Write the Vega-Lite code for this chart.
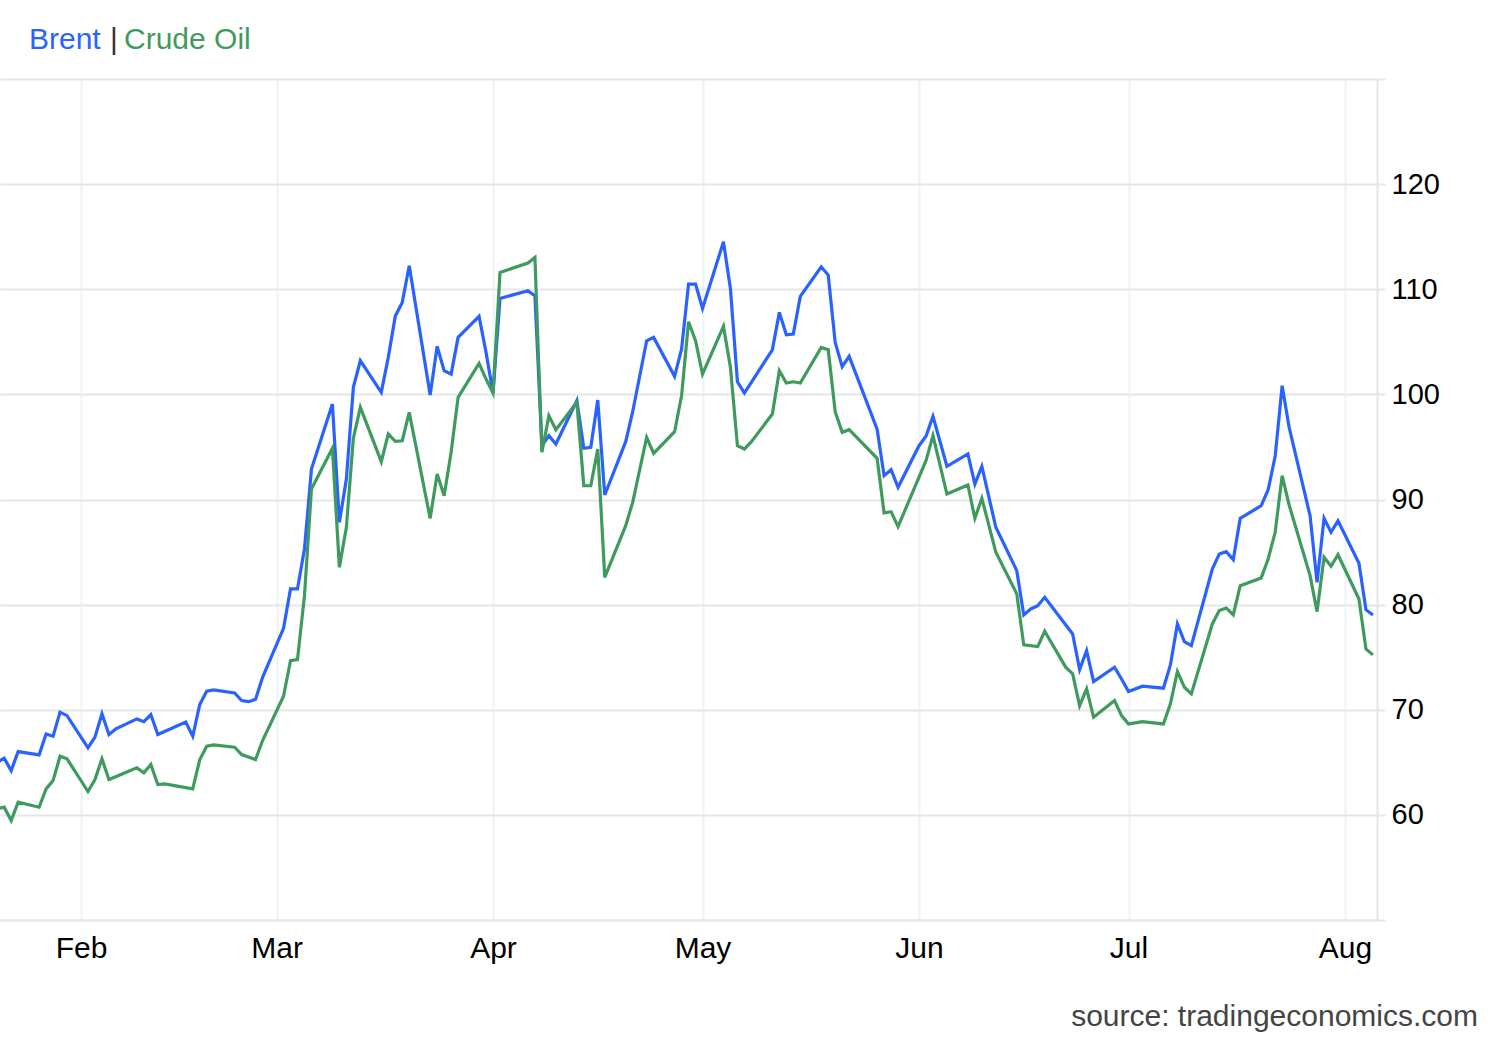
{
  "$schema": "https://vega.github.io/schema/vega-lite/v6.json",
  "description": "Brent vs Crude Oil daily prices, Jan to Aug.",
  "width": 1377,
  "height": 841,
  "autosize": {"type": "none"},
  "padding": {"left": 0, "top": 79, "right": 123, "bottom": 120},
  "background": "white",
  "title": {
    "text": "source: tradingeconomics.com",
    "orient": "bottom",
    "anchor": "end",
    "frame": "group",
    "dx": 101,
    "offset": 39,
    "fontSize": 30,
    "font": "Liberation Sans",
    "fontWeight": "normal",
    "color": "#444444"
  },
  "datasets": {
    "prices": [
      {"d": "2026-01-20", "s": "Brent", "v": 65.0},
      {"d": "2026-01-21", "s": "Brent", "v": 65.39},
      {"d": "2026-01-22", "s": "Brent", "v": 64.21},
      {"d": "2026-01-23", "s": "Brent", "v": 66.02},
      {"d": "2026-01-26", "s": "Brent", "v": 65.71},
      {"d": "2026-01-27", "s": "Brent", "v": 67.70},
      {"d": "2026-01-28", "s": "Brent", "v": 67.48},
      {"d": "2026-01-29", "s": "Brent", "v": 69.77},
      {"d": "2026-01-30", "s": "Brent", "v": 69.44},
      {"d": "2026-02-02", "s": "Brent", "v": 66.37},
      {"d": "2026-02-03", "s": "Brent", "v": 67.39},
      {"d": "2026-02-04", "s": "Brent", "v": 69.61},
      {"d": "2026-02-05", "s": "Brent", "v": 67.64},
      {"d": "2026-02-06", "s": "Brent", "v": 68.18},
      {"d": "2026-02-09", "s": "Brent", "v": 69.13},
      {"d": "2026-02-10", "s": "Brent", "v": 68.87},
      {"d": "2026-02-11", "s": "Brent", "v": 69.54},
      {"d": "2026-02-12", "s": "Brent", "v": 67.64},
      {"d": "2026-02-16", "s": "Brent", "v": 68.82},
      {"d": "2026-02-17", "s": "Brent", "v": 67.48},
      {"d": "2026-02-18", "s": "Brent", "v": 70.49},
      {"d": "2026-02-19", "s": "Brent", "v": 71.76},
      {"d": "2026-02-20", "s": "Brent", "v": 71.89},
      {"d": "2026-02-23", "s": "Brent", "v": 71.60},
      {"d": "2026-02-24", "s": "Brent", "v": 70.87},
      {"d": "2026-02-25", "s": "Brent", "v": 70.77},
      {"d": "2026-02-26", "s": "Brent", "v": 71.00},
      {"d": "2026-02-27", "s": "Brent", "v": 73.09},
      {"d": "2026-03-02", "s": "Brent", "v": 77.75},
      {"d": "2026-03-03", "s": "Brent", "v": 81.49},
      {"d": "2026-03-04", "s": "Brent", "v": 81.49},
      {"d": "2026-03-05", "s": "Brent", "v": 85.29},
      {"d": "2026-03-06", "s": "Brent", "v": 92.90},
      {"d": "2026-03-09", "s": "Brent", "v": 99.08},
      {"d": "2026-03-10", "s": "Brent", "v": 87.83},
      {"d": "2026-03-11", "s": "Brent", "v": 91.95},
      {"d": "2026-03-12", "s": "Brent", "v": 100.67},
      {"d": "2026-03-13", "s": "Brent", "v": 103.20},
      {"d": "2026-03-16", "s": "Brent", "v": 100.19},
      {"d": "2026-03-17", "s": "Brent", "v": 103.52},
      {"d": "2026-03-18", "s": "Brent", "v": 107.42},
      {"d": "2026-03-19", "s": "Brent", "v": 108.75},
      {"d": "2026-03-20", "s": "Brent", "v": 112.23},
      {"d": "2026-03-23", "s": "Brent", "v": 99.94},
      {"d": "2026-03-24", "s": "Brent", "v": 104.57},
      {"d": "2026-03-25", "s": "Brent", "v": 102.25},
      {"d": "2026-03-26", "s": "Brent", "v": 101.93},
      {"d": "2026-03-27", "s": "Brent", "v": 105.42},
      {"d": "2026-03-30", "s": "Brent", "v": 107.42},
      {"d": "2026-03-31", "s": "Brent", "v": 104.00},
      {"d": "2026-04-01", "s": "Brent", "v": 100.13},
      {"d": "2026-04-02", "s": "Brent", "v": 109.13},
      {"d": "2026-04-06", "s": "Brent", "v": 109.85},
      {"d": "2026-04-07", "s": "Brent", "v": 109.38},
      {"d": "2026-04-08", "s": "Brent", "v": 95.12},
      {"d": "2026-04-09", "s": "Brent", "v": 96.07},
      {"d": "2026-04-10", "s": "Brent", "v": 95.28},
      {"d": "2026-04-13", "s": "Brent", "v": 99.40},
      {"d": "2026-04-14", "s": "Brent", "v": 94.87},
      {"d": "2026-04-15", "s": "Brent", "v": 94.96},
      {"d": "2026-04-16", "s": "Brent", "v": 99.46},
      {"d": "2026-04-17", "s": "Brent", "v": 90.43},
      {"d": "2026-04-20", "s": "Brent", "v": 95.50},
      {"d": "2026-04-21", "s": "Brent", "v": 98.35},
      {"d": "2026-04-23", "s": "Brent", "v": 105.10},
      {"d": "2026-04-24", "s": "Brent", "v": 105.42},
      {"d": "2026-04-27", "s": "Brent", "v": 101.72},
      {"d": "2026-04-28", "s": "Brent", "v": 104.31},
      {"d": "2026-04-29", "s": "Brent", "v": 110.49},
      {"d": "2026-04-30", "s": "Brent", "v": 110.49},
      {"d": "2026-05-01", "s": "Brent", "v": 108.18},
      {"d": "2026-05-04", "s": "Brent", "v": 114.51},
      {"d": "2026-05-05", "s": "Brent", "v": 110.02},
      {"d": "2026-05-06", "s": "Brent", "v": 101.20},
      {"d": "2026-05-07", "s": "Brent", "v": 100.13},
      {"d": "2026-05-11", "s": "Brent", "v": 104.24},
      {"d": "2026-05-12", "s": "Brent", "v": 107.80},
      {"d": "2026-05-13", "s": "Brent", "v": 105.67},
      {"d": "2026-05-14", "s": "Brent", "v": 105.74},
      {"d": "2026-05-15", "s": "Brent", "v": 109.32},
      {"d": "2026-05-18", "s": "Brent", "v": 112.14},
      {"d": "2026-05-19", "s": "Brent", "v": 111.35},
      {"d": "2026-05-20", "s": "Brent", "v": 104.95},
      {"d": "2026-05-21", "s": "Brent", "v": 102.63},
      {"d": "2026-05-22", "s": "Brent", "v": 103.62},
      {"d": "2026-05-26", "s": "Brent", "v": 96.70},
      {"d": "2026-05-27", "s": "Brent", "v": 92.26},
      {"d": "2026-05-28", "s": "Brent", "v": 92.83},
      {"d": "2026-05-29", "s": "Brent", "v": 91.16},
      {"d": "2026-06-01", "s": "Brent", "v": 95.12},
      {"d": "2026-06-02", "s": "Brent", "v": 96.01},
      {"d": "2026-06-03", "s": "Brent", "v": 97.91},
      {"d": "2026-06-05", "s": "Brent", "v": 93.16},
      {"d": "2026-06-08", "s": "Brent", "v": 94.33},
      {"d": "2026-06-09", "s": "Brent", "v": 91.47},
      {"d": "2026-06-10", "s": "Brent", "v": 93.16},
      {"d": "2026-06-12", "s": "Brent", "v": 87.36},
      {"d": "2026-06-15", "s": "Brent", "v": 83.23},
      {"d": "2026-06-16", "s": "Brent", "v": 79.02},
      {"d": "2026-06-17", "s": "Brent", "v": 79.59},
      {"d": "2026-06-18", "s": "Brent", "v": 79.90},
      {"d": "2026-06-19", "s": "Brent", "v": 80.70},
      {"d": "2026-06-23", "s": "Brent", "v": 77.21},
      {"d": "2026-06-24", "s": "Brent", "v": 73.82},
      {"d": "2026-06-25", "s": "Brent", "v": 75.62},
      {"d": "2026-06-26", "s": "Brent", "v": 72.68},
      {"d": "2026-06-29", "s": "Brent", "v": 74.05},
      {"d": "2026-06-30", "s": "Brent", "v": 72.93},
      {"d": "2026-07-01", "s": "Brent", "v": 71.73},
      {"d": "2026-07-03", "s": "Brent", "v": 72.24},
      {"d": "2026-07-06", "s": "Brent", "v": 72.05},
      {"d": "2026-07-07", "s": "Brent", "v": 74.26},
      {"d": "2026-07-08", "s": "Brent", "v": 78.16},
      {"d": "2026-07-09", "s": "Brent", "v": 76.48},
      {"d": "2026-07-10", "s": "Brent", "v": 76.10},
      {"d": "2026-07-13", "s": "Brent", "v": 83.39},
      {"d": "2026-07-14", "s": "Brent", "v": 84.82},
      {"d": "2026-07-15", "s": "Brent", "v": 85.04},
      {"d": "2026-07-16", "s": "Brent", "v": 84.28},
      {"d": "2026-07-17", "s": "Brent", "v": 88.21},
      {"d": "2026-07-20", "s": "Brent", "v": 89.41},
      {"d": "2026-07-21", "s": "Brent", "v": 90.93},
      {"d": "2026-07-22", "s": "Brent", "v": 94.11},
      {"d": "2026-07-23", "s": "Brent", "v": 100.82},
      {"d": "2026-07-24", "s": "Brent", "v": 96.87},
      {"d": "2026-07-27", "s": "Brent", "v": 88.46},
      {"d": "2026-07-28", "s": "Brent", "v": 82.13},
      {"d": "2026-07-29", "s": "Brent", "v": 88.21},
      {"d": "2026-07-30", "s": "Brent", "v": 86.88},
      {"d": "2026-07-31", "s": "Brent", "v": 87.98},
      {"d": "2026-08-03", "s": "Brent", "v": 83.93},
      {"d": "2026-08-04", "s": "Brent", "v": 79.52},
      {"d": "2026-08-05", "s": "Brent", "v": 79.02},
      {"d": "2026-01-20", "s": "Crude Oil", "v": 60.57},
      {"d": "2026-01-21", "s": "Crude Oil", "v": 60.73},
      {"d": "2026-01-22", "s": "Crude Oil", "v": 59.46},
      {"d": "2026-01-23", "s": "Crude Oil", "v": 61.21},
      {"d": "2026-01-26", "s": "Crude Oil", "v": 60.73},
      {"d": "2026-01-27", "s": "Crude Oil", "v": 62.47},
      {"d": "2026-01-28", "s": "Crude Oil", "v": 63.26},
      {"d": "2026-01-29", "s": "Crude Oil", "v": 65.58},
      {"d": "2026-01-30", "s": "Crude Oil", "v": 65.33},
      {"d": "2026-02-02", "s": "Crude Oil", "v": 62.22},
      {"d": "2026-02-03", "s": "Crude Oil", "v": 63.36},
      {"d": "2026-02-04", "s": "Crude Oil", "v": 65.33},
      {"d": "2026-02-05", "s": "Crude Oil", "v": 63.36},
      {"d": "2026-02-09", "s": "Crude Oil", "v": 64.47},
      {"d": "2026-02-10", "s": "Crude Oil", "v": 64.00},
      {"d": "2026-02-11", "s": "Crude Oil", "v": 64.79},
      {"d": "2026-02-12", "s": "Crude Oil", "v": 62.88},
      {"d": "2026-02-13", "s": "Crude Oil", "v": 62.95},
      {"d": "2026-02-17", "s": "Crude Oil", "v": 62.47},
      {"d": "2026-02-18", "s": "Crude Oil", "v": 65.23},
      {"d": "2026-02-19", "s": "Crude Oil", "v": 66.53},
      {"d": "2026-02-20", "s": "Crude Oil", "v": 66.66},
      {"d": "2026-02-23", "s": "Crude Oil", "v": 66.44},
      {"d": "2026-02-24", "s": "Crude Oil", "v": 65.74},
      {"d": "2026-02-26", "s": "Crude Oil", "v": 65.26},
      {"d": "2026-02-27", "s": "Crude Oil", "v": 67.07},
      {"d": "2026-03-02", "s": "Crude Oil", "v": 71.29},
      {"d": "2026-03-03", "s": "Crude Oil", "v": 74.67},
      {"d": "2026-03-04", "s": "Crude Oil", "v": 74.77},
      {"d": "2026-03-05", "s": "Crude Oil", "v": 80.85},
      {"d": "2026-03-06", "s": "Crude Oil", "v": 91.00},
      {"d": "2026-03-09", "s": "Crude Oil", "v": 94.87},
      {"d": "2026-03-10", "s": "Crude Oil", "v": 83.55},
      {"d": "2026-03-11", "s": "Crude Oil", "v": 87.36},
      {"d": "2026-03-12", "s": "Crude Oil", "v": 95.82},
      {"d": "2026-03-13", "s": "Crude Oil", "v": 98.77},
      {"d": "2026-03-16", "s": "Crude Oil", "v": 93.60},
      {"d": "2026-03-17", "s": "Crude Oil", "v": 96.23},
      {"d": "2026-03-18", "s": "Crude Oil", "v": 95.53},
      {"d": "2026-03-19", "s": "Crude Oil", "v": 95.59},
      {"d": "2026-03-20", "s": "Crude Oil", "v": 98.29},
      {"d": "2026-03-23", "s": "Crude Oil", "v": 88.21},
      {"d": "2026-03-24", "s": "Crude Oil", "v": 92.43},
      {"d": "2026-03-25", "s": "Crude Oil", "v": 90.36},
      {"d": "2026-03-26", "s": "Crude Oil", "v": 94.49},
      {"d": "2026-03-27", "s": "Crude Oil", "v": 99.72},
      {"d": "2026-03-30", "s": "Crude Oil", "v": 102.95},
      {"d": "2026-03-31", "s": "Crude Oil", "v": 101.46},
      {"d": "2026-04-01", "s": "Crude Oil", "v": 100.13},
      {"d": "2026-04-02", "s": "Crude Oil", "v": 111.60},
      {"d": "2026-04-06", "s": "Crude Oil", "v": 112.49},
      {"d": "2026-04-07", "s": "Crude Oil", "v": 113.03},
      {"d": "2026-04-08", "s": "Crude Oil", "v": 94.49},
      {"d": "2026-04-09", "s": "Crude Oil", "v": 97.97},
      {"d": "2026-04-10", "s": "Crude Oil", "v": 96.64},
      {"d": "2026-04-13", "s": "Crude Oil", "v": 99.24},
      {"d": "2026-04-14", "s": "Crude Oil", "v": 91.31},
      {"d": "2026-04-15", "s": "Crude Oil", "v": 91.31},
      {"d": "2026-04-16", "s": "Crude Oil", "v": 94.80},
      {"d": "2026-04-17", "s": "Crude Oil", "v": 82.60},
      {"d": "2026-04-20", "s": "Crude Oil", "v": 87.51},
      {"d": "2026-04-21", "s": "Crude Oil", "v": 89.73},
      {"d": "2026-04-23", "s": "Crude Oil", "v": 95.91},
      {"d": "2026-04-24", "s": "Crude Oil", "v": 94.39},
      {"d": "2026-04-27", "s": "Crude Oil", "v": 96.45},
      {"d": "2026-04-28", "s": "Crude Oil", "v": 99.87},
      {"d": "2026-04-29", "s": "Crude Oil", "v": 106.91},
      {"d": "2026-04-30", "s": "Crude Oil", "v": 105.10},
      {"d": "2026-05-01", "s": "Crude Oil", "v": 101.93},
      {"d": "2026-05-04", "s": "Crude Oil", "v": 106.47},
      {"d": "2026-05-05", "s": "Crude Oil", "v": 102.57},
      {"d": "2026-05-06", "s": "Crude Oil", "v": 95.12},
      {"d": "2026-05-07", "s": "Crude Oil", "v": 94.80},
      {"d": "2026-05-08", "s": "Crude Oil", "v": 95.50},
      {"d": "2026-05-11", "s": "Crude Oil", "v": 98.13},
      {"d": "2026-05-12", "s": "Crude Oil", "v": 102.25},
      {"d": "2026-05-13", "s": "Crude Oil", "v": 101.08},
      {"d": "2026-05-14", "s": "Crude Oil", "v": 101.20},
      {"d": "2026-05-15", "s": "Crude Oil", "v": 101.08},
      {"d": "2026-05-18", "s": "Crude Oil", "v": 104.47},
      {"d": "2026-05-19", "s": "Crude Oil", "v": 104.24},
      {"d": "2026-05-20", "s": "Crude Oil", "v": 98.35},
      {"d": "2026-05-21", "s": "Crude Oil", "v": 96.39},
      {"d": "2026-05-22", "s": "Crude Oil", "v": 96.64},
      {"d": "2026-05-26", "s": "Crude Oil", "v": 93.92},
      {"d": "2026-05-27", "s": "Crude Oil", "v": 88.72},
      {"d": "2026-05-28", "s": "Crude Oil", "v": 88.84},
      {"d": "2026-05-29", "s": "Crude Oil", "v": 87.42},
      {"d": "2026-06-02", "s": "Crude Oil", "v": 93.69},
      {"d": "2026-06-03", "s": "Crude Oil", "v": 96.07},
      {"d": "2026-06-05", "s": "Crude Oil", "v": 90.52},
      {"d": "2026-06-08", "s": "Crude Oil", "v": 91.38},
      {"d": "2026-06-09", "s": "Crude Oil", "v": 88.21},
      {"d": "2026-06-10", "s": "Crude Oil", "v": 90.11},
      {"d": "2026-06-12", "s": "Crude Oil", "v": 84.98},
      {"d": "2026-06-15", "s": "Crude Oil", "v": 81.02},
      {"d": "2026-06-16", "s": "Crude Oil", "v": 76.17},
      {"d": "2026-06-18", "s": "Crude Oil", "v": 76.01},
      {"d": "2026-06-19", "s": "Crude Oil", "v": 77.47},
      {"d": "2026-06-22", "s": "Crude Oil", "v": 74.05},
      {"d": "2026-06-23", "s": "Crude Oil", "v": 73.41},
      {"d": "2026-06-24", "s": "Crude Oil", "v": 70.39},
      {"d": "2026-06-25", "s": "Crude Oil", "v": 71.98},
      {"d": "2026-06-26", "s": "Crude Oil", "v": 69.29},
      {"d": "2026-06-29", "s": "Crude Oil", "v": 70.87},
      {"d": "2026-06-30", "s": "Crude Oil", "v": 69.44},
      {"d": "2026-07-01", "s": "Crude Oil", "v": 68.65},
      {"d": "2026-07-03", "s": "Crude Oil", "v": 68.87},
      {"d": "2026-07-06", "s": "Crude Oil", "v": 68.65},
      {"d": "2026-07-07", "s": "Crude Oil", "v": 70.56},
      {"d": "2026-07-08", "s": "Crude Oil", "v": 73.63},
      {"d": "2026-07-09", "s": "Crude Oil", "v": 72.14},
      {"d": "2026-07-10", "s": "Crude Oil", "v": 71.51},
      {"d": "2026-07-13", "s": "Crude Oil", "v": 78.16},
      {"d": "2026-07-14", "s": "Crude Oil", "v": 79.43},
      {"d": "2026-07-15", "s": "Crude Oil", "v": 79.68},
      {"d": "2026-07-16", "s": "Crude Oil", "v": 79.02},
      {"d": "2026-07-17", "s": "Crude Oil", "v": 81.80},
      {"d": "2026-07-20", "s": "Crude Oil", "v": 82.54},
      {"d": "2026-07-21", "s": "Crude Oil", "v": 84.34},
      {"d": "2026-07-22", "s": "Crude Oil", "v": 86.88},
      {"d": "2026-07-23", "s": "Crude Oil", "v": 92.26},
      {"d": "2026-07-24", "s": "Crude Oil", "v": 89.48},
      {"d": "2026-07-27", "s": "Crude Oil", "v": 82.76},
      {"d": "2026-07-28", "s": "Crude Oil", "v": 79.33},
      {"d": "2026-07-29", "s": "Crude Oil", "v": 84.50},
      {"d": "2026-07-30", "s": "Crude Oil", "v": 83.65},
      {"d": "2026-07-31", "s": "Crude Oil", "v": 84.75},
      {"d": "2026-08-03", "s": "Crude Oil", "v": 80.54},
      {"d": "2026-08-04", "s": "Crude Oil", "v": 75.79},
      {"d": "2026-08-05", "s": "Crude Oil", "v": 75.22}
    ]
  },
  "data": {"name": "prices"},
  "mark": {"type": "line", "strokeWidth": 3.2, "clip": true},
  "encoding": {
    "x": {
      "field": "d",
      "type": "temporal",
      "scale": {
        "type": "utc",
        "domain": [
          {"year": 2026, "month": 1, "date": 20, "hours": 9, "minutes": 37, "utc": true},
          {"year": 2026, "month": 8, "date": 5, "hours": 14, "utc": true}
        ]
      },
      "axis": {
        "title": null,
        "values": [
          {"year": 2026, "month": 2, "date": 1, "utc": true},
          {"year": 2026, "month": 3, "date": 1, "utc": true},
          {"year": 2026, "month": 4, "date": 1, "utc": true},
          {"year": 2026, "month": 5, "date": 1, "utc": true},
          {"year": 2026, "month": 6, "date": 1, "utc": true},
          {"year": 2026, "month": 7, "date": 1, "utc": true},
          {"year": 2026, "month": 8, "date": 1, "utc": true}
        ],
        "format": "%b",
        "ticks": false,
        "domainColor": "#e6e6e6",
        "domainWidth": 2,
        "gridColor": "#eef2f7",
        "gridWidth": 2,
        "labelFont": "Liberation Sans",
        "labelFontSize": 30,
        "labelColor": "#000000",
        "labelPadding": 13
      }
    },
    "y": {
      "field": "v",
      "type": "quantitative",
      "scale": {"domain": [50, 130], "nice": false, "zero": false},
      "axis": {
        "orient": "right",
        "title": null,
        "values": [50, 60, 70, 80, 90, 100, 110, 120, 130],
        "labelExpr": "datum.value < 55 || datum.value > 125 ? '' : datum.label",
        "tickSize": 8,
        "tickWidth": 2,
        "tickColor": "#e6e6e6",
        "domainColor": "#e6e6e6",
        "domainWidth": 2,
        "gridColor": "#e6e6e6",
        "gridWidth": 2,
        "labelFont": "Liberation Sans",
        "labelFontSize": 29,
        "labelColor": "#000000",
        "labelPadding": 6
      }
    },
    "color": {
      "field": "s",
      "type": "nominal",
      "scale": {
        "domain": ["Brent", "|", "Crude Oil"],
        "range": ["#2962ff", "#333333", "#3f9a5e"]
      },
      "legend": {
        "title": null,
        "orient": "none",
        "legendX": 27,
        "legendY": -54,
        "direction": "horizontal",
        "symbolSize": 0,
        "symbolOpacity": 0,
        "symbolStrokeWidth": 0,
        "labelFont": "Liberation Sans",
        "labelFontSize": 30,
        "labelOffset": -28,
        "labelLimit": 400,
        "columnPadding": 3,
        "padding": 0,
        "encode": {
          "labels": {
            "update": {
              "fill": {"scale": "color", "field": "value"},
              "dx": {"signal": "datum.label === '|' ? 4 : 0"}
            }
          }
        }
      }
    }
  },
  "config": {
    "view": {"stroke": null}
  }
}
